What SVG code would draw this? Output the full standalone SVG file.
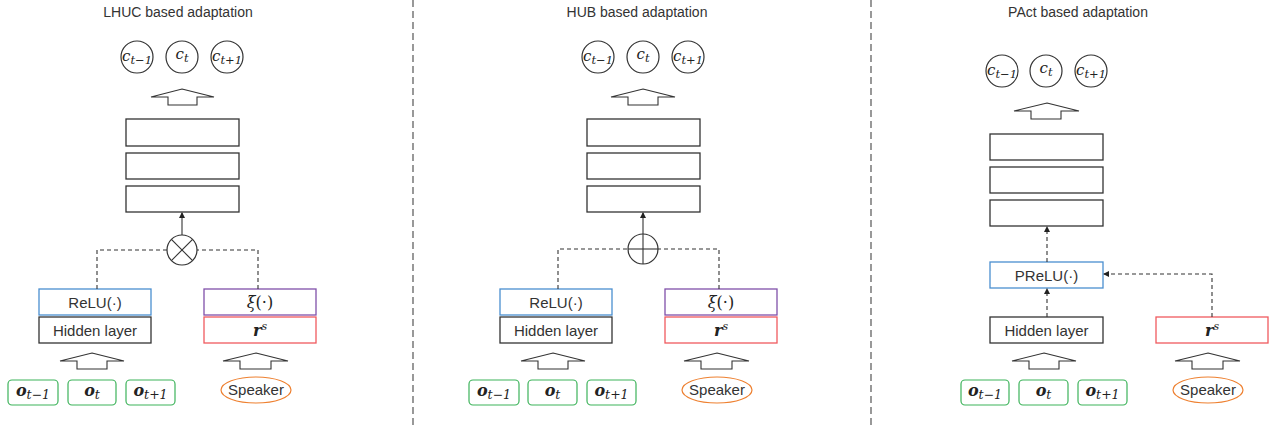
<svg xmlns="http://www.w3.org/2000/svg" width="1276" height="428" viewBox="0 0 1276 428">
<defs>
<marker id="ah" markerWidth="6" markerHeight="6" refX="5" refY="3" orient="auto" markerUnits="userSpaceOnUse">
<path d="M0,0 L6,3 L0,6 Z" fill="#222"/>
</marker>
<style>
.title{font-family:"Liberation Sans",Arial,sans-serif;font-size:14px;fill:#333;text-anchor:middle}
.lbl{font-family:"Liberation Sans",Arial,sans-serif;font-size:15px;fill:#333;text-anchor:middle}
.math{font-family:"DejaVu Serif","Liberation Serif",serif;fill:#222;text-anchor:middle}
.cm{font-size:15px}
.cs{font-size:11.5px}
.om{font-size:16px}
.os{font-size:12.5px}
.circ{fill:#fff;stroke:#333;stroke-width:1.2}
.layer{fill:#fff;stroke:#333;stroke-width:1.3}
.blk{fill:#fff;stroke:#333;stroke-width:1.1}
.blue{fill:#fff;stroke:#4A8FD0;stroke-width:1.3}
.purple{fill:#fff;stroke:#8050AA;stroke-width:1.3}
.red{fill:#fff;stroke:#F05A5F;stroke-width:1.3}
.green{fill:#fff;stroke:#3DB35A;stroke-width:1.2}
.orange{fill:#fff;stroke:#EE8030;stroke-width:1.2}
.dash{fill:none;stroke:#333;stroke-width:1.1;stroke-dasharray:4,3}
.solid{fill:none;stroke:#333;stroke-width:1.1}
.sep{fill:none;stroke:#555;stroke-width:1.2;stroke-dasharray:7,4}
</style>
</defs>
<rect width="1276" height="428" fill="#fff"/>

<g id="separators">
<line class="sep" x1="413" y1="0" x2="413" y2="428"/>
<line class="sep" x1="871" y1="0" x2="871" y2="428"/>
</g>

<!-- Panel 1: LHUC -->
<g id="p1-title"><text class="title" x="178" y="17">LHUC based adaptation</text></g>
<g id="p1-outputs">
<circle class="circ" cx="137" cy="57" r="16"/>
<text class="math cm" x="137" y="61"><tspan font-style="italic">c</tspan><tspan class="cs" font-style="italic" dy="3">t−1</tspan></text>
<circle class="circ" cx="182" cy="57" r="16"/>
<text class="math cm" x="182" y="59"><tspan font-style="italic">c</tspan><tspan class="cs" font-style="italic" dy="3">t</tspan></text>
<circle class="circ" cx="227" cy="57" r="16"/>
<text class="math cm" x="227" y="61"><tspan font-style="italic">c</tspan><tspan class="cs" font-style="italic" dy="3">t+1</tspan></text>
</g>
<g id="p1-uparrow"><polygon class="blk" points="182,89 214,97 197,97 197,105 168,105 168,97 151,97"/></g>
<g id="p1-layers">
<rect class="layer" x="126" y="119" width="113" height="27"/>
<rect class="layer" x="126" y="153" width="113" height="26"/>
<rect class="layer" x="126" y="186" width="113" height="26"/>
</g>
<g id="p1-mult">
<circle class="circ" cx="182" cy="250" r="15"/>
<line class="solid" x1="171.4" y1="239.4" x2="192.6" y2="260.6"/>
<line class="solid" x1="192.6" y1="239.4" x2="171.4" y2="260.6"/>
</g>
<g id="p1-relu"><rect class="blue" x="39" y="289" width="112" height="26"/><text class="lbl" x="95" y="307.5">ReLU(·)</text></g>
<g id="p1-hidden"><rect class="layer" x="39" y="317" width="112" height="26"/><text class="lbl" x="95" y="335.5">Hidden layer</text></g>
<g id="p1-xi"><rect class="purple" x="204" y="289" width="112" height="26"/><text class="math" x="260" y="307.5" font-size="16"><tspan font-style="italic">ξ</tspan>(·)</text></g>
<g id="p1-rs"><rect class="red" x="204" y="317" width="112" height="26"/><text class="math" x="260" y="336" font-size="16"><tspan font-style="italic" font-weight="bold">r</tspan><tspan font-style="italic" font-size="11" dy="-6">s</tspan></text></g>
<g id="p1-inarrows">
<polygon class="blk" points="92,353 124,361 107,361 107,369 77,369 77,361 60,361"/>
<polygon class="blk" points="256,353 288,361 271,361 271,369 240,369 240,361 223,361"/>
</g>
<g id="p1-inputs">
<rect class="green" x="8" y="380" width="50" height="25" rx="4"/>
<text class="math om" x="33" y="396"><tspan font-style="italic" font-weight="bold">o</tspan><tspan class="os" font-style="italic" dy="3">t−1</tspan></text>
<rect class="green" x="68" y="380" width="48" height="25" rx="4"/>
<text class="math om" x="92" y="396"><tspan font-style="italic" font-weight="bold">o</tspan><tspan class="os" font-style="italic" dy="3">t</tspan></text>
<rect class="green" x="126" y="380" width="49" height="25" rx="4"/>
<text class="math om" x="150.5" y="396"><tspan font-style="italic" font-weight="bold">o</tspan><tspan class="os" font-style="italic" dy="3">t+1</tspan></text>
</g>
<g id="p1-speaker"><ellipse class="orange" cx="256" cy="390" rx="35" ry="13"/><text class="lbl" x="256" y="395">Speaker</text></g>

<!-- Panel 2: HUB -->
<g id="p2-title"><text class="title" x="637" y="17">HUB based adaptation</text></g>
<g id="p2-outputs">
<circle class="circ" cx="598" cy="57" r="16"/>
<text class="math cm" x="598" y="61"><tspan font-style="italic">c</tspan><tspan class="cs" font-style="italic" dy="3">t−1</tspan></text>
<circle class="circ" cx="643" cy="57" r="16"/>
<text class="math cm" x="643" y="59"><tspan font-style="italic">c</tspan><tspan class="cs" font-style="italic" dy="3">t</tspan></text>
<circle class="circ" cx="688" cy="57" r="16"/>
<text class="math cm" x="688" y="61"><tspan font-style="italic">c</tspan><tspan class="cs" font-style="italic" dy="3">t+1</tspan></text>
</g>
<g id="p2-uparrow"><polygon class="blk" points="643,89 675,97 658,97 658,105 628,105 628,97 611,97"/></g>
<g id="p2-layers">
<rect class="layer" x="587" y="119" width="113" height="27"/>
<rect class="layer" x="587" y="153" width="113" height="26"/>
<rect class="layer" x="587" y="186" width="113" height="26"/>
</g>
<g id="p2-add">
<circle class="circ" cx="643" cy="249" r="15"/>
<line class="solid" x1="628" y1="249" x2="658" y2="249"/>
<line class="solid" x1="643" y1="234" x2="643" y2="264"/>
</g>
<g id="p2-relu"><rect class="blue" x="500" y="289" width="112" height="26"/><text class="lbl" x="556" y="307.5">ReLU(·)</text></g>
<g id="p2-hidden"><rect class="layer" x="500" y="317" width="112" height="26"/><text class="lbl" x="556" y="335.5">Hidden layer</text></g>
<g id="p2-xi"><rect class="purple" x="665" y="289" width="112" height="26"/><text class="math" x="721" y="307.5" font-size="16"><tspan font-style="italic">ξ</tspan>(·)</text></g>
<g id="p2-rs"><rect class="red" x="665" y="317" width="112" height="26"/><text class="math" x="721" y="336" font-size="16"><tspan font-style="italic" font-weight="bold">r</tspan><tspan font-style="italic" font-size="11" dy="-6">s</tspan></text></g>
<g id="p2-inarrows">
<polygon class="blk" points="553,353 585,361 568,361 568,369 538,369 538,361 521,361"/>
<polygon class="blk" points="717,353 749,361 732,361 732,369 701,369 701,361 684,361"/>
</g>
<g id="p2-inputs">
<rect class="green" x="469" y="380" width="50" height="25" rx="4"/>
<text class="math om" x="494" y="396"><tspan font-style="italic" font-weight="bold">o</tspan><tspan class="os" font-style="italic" dy="3">t−1</tspan></text>
<rect class="green" x="528" y="380" width="49" height="25" rx="4"/>
<text class="math om" x="552.5" y="396"><tspan font-style="italic" font-weight="bold">o</tspan><tspan class="os" font-style="italic" dy="3">t</tspan></text>
<rect class="green" x="587" y="380" width="49" height="25" rx="4"/>
<text class="math om" x="611.5" y="396"><tspan font-style="italic" font-weight="bold">o</tspan><tspan class="os" font-style="italic" dy="3">t+1</tspan></text>
</g>
<g id="p2-speaker"><ellipse class="orange" cx="717" cy="390" rx="35" ry="13"/><text class="lbl" x="717" y="395">Speaker</text></g>

<!-- Panel 3: PAct -->
<g id="p3-title"><text class="title" x="1078" y="17">PAct based adaptation</text></g>
<g id="p3-outputs">
<circle class="circ" cx="1002" cy="71" r="16"/>
<text class="math cm" x="1002" y="75"><tspan font-style="italic">c</tspan><tspan class="cs" font-style="italic" dy="3">t−1</tspan></text>
<circle class="circ" cx="1046" cy="71" r="16"/>
<text class="math cm" x="1046" y="73"><tspan font-style="italic">c</tspan><tspan class="cs" font-style="italic" dy="3">t</tspan></text>
<circle class="circ" cx="1091" cy="71" r="16"/>
<text class="math cm" x="1091" y="75"><tspan font-style="italic">c</tspan><tspan class="cs" font-style="italic" dy="3">t+1</tspan></text>
</g>
<g id="p3-uparrow"><polygon class="blk" points="1047,103 1079,111 1061,111 1061,119 1031,119 1031,111 1014,111"/></g>
<g id="p3-layers">
<rect class="layer" x="990" y="134" width="113" height="26"/>
<rect class="layer" x="990" y="167" width="113" height="26"/>
<rect class="layer" x="990" y="200" width="113" height="26"/>
</g>
<g id="p3-prelu"><rect class="blue" x="990" y="262" width="113" height="26"/><text class="lbl" x="1046.5" y="280.5">PReLU(·)</text></g>
<g id="p3-hidden"><rect class="layer" x="990" y="317" width="113" height="26"/><text class="lbl" x="1046.5" y="335.5">Hidden layer</text></g>
<g id="p3-rs"><rect class="red" x="1156" y="317" width="112" height="26"/><text class="math" x="1212" y="336" font-size="16"><tspan font-style="italic" font-weight="bold">r</tspan><tspan font-style="italic" font-size="11" dy="-6">s</tspan></text></g>
<g id="p3-inarrows">
<polygon class="blk" points="1044,353 1076,361 1059,361 1059,369 1029,369 1029,361 1012,361"/>
<polygon class="blk" points="1208,353 1240,361 1223,361 1223,369 1192,369 1192,361 1175,361"/>
</g>
<g id="p3-inputs">
<rect class="green" x="961" y="380" width="48" height="25" rx="4"/>
<text class="math om" x="985" y="396"><tspan font-style="italic" font-weight="bold">o</tspan><tspan class="os" font-style="italic" dy="3">t−1</tspan></text>
<rect class="green" x="1019" y="380" width="49" height="25" rx="4"/>
<text class="math om" x="1043.5" y="396"><tspan font-style="italic" font-weight="bold">o</tspan><tspan class="os" font-style="italic" dy="3">t</tspan></text>
<rect class="green" x="1078" y="380" width="49" height="25" rx="4"/>
<text class="math om" x="1102.5" y="396"><tspan font-style="italic" font-weight="bold">o</tspan><tspan class="os" font-style="italic" dy="3">t+1</tspan></text>
</g>
<g id="p3-speaker"><ellipse class="orange" cx="1208" cy="390" rx="35" ry="13"/><text class="lbl" x="1208" y="395">Speaker</text></g>

<g id="connectors">
<line class="solid" x1="182" y1="235" x2="182" y2="213" marker-end="url(#ah)"/>
<path class="dash" d="M97,289 V250 H167"/>
<path class="dash" d="M258,289 V250 H197"/>
<line class="solid" x1="643" y1="234" x2="643" y2="213" marker-end="url(#ah)"/>
<path class="dash" d="M558,289 V249 H628"/>
<path class="dash" d="M719,289 V249 H658"/>
<line class="dash" x1="1047" y1="262" x2="1047" y2="227" marker-end="url(#ah)"/>
<line class="dash" x1="1047" y1="317" x2="1047" y2="289" marker-end="url(#ah)"/>
<path class="dash" d="M1212,317 V274 H1104" marker-end="url(#ah)"/>
</g>
</svg>
